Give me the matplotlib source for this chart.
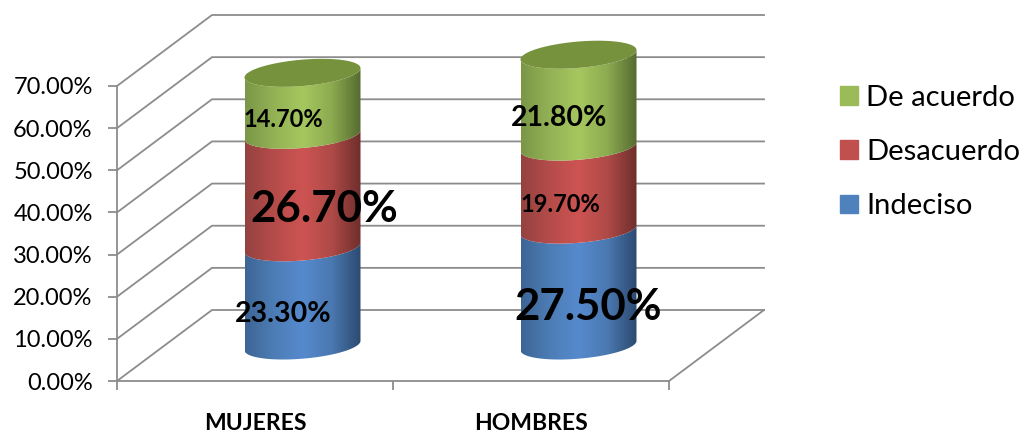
import numpy as np
import matplotlib
matplotlib.use('Agg')
import matplotlib.pyplot as plt
from matplotlib.colors import LinearSegmentedColormap
from matplotlib.patches import Polygon, Patch

# datos
categorias = ['MUJERES', 'HOMBRES']
series = ['Indeciso', 'Desacuerdo', 'De acuerdo']
indeciso = [0.233, 0.275]
desacuerdo = [0.267, 0.197]
de_acuerdo = [0.147, 0.218]
y_ticks = [0, 0.1, 0.2, 0.3, 0.4, 0.5, 0.6, 0.7]

# estilo de las etiquetas (tamano y desplazamiento en px)
label_off = [[(-19, -18), (22, -18), (-19, -16)],
             [(10, -19), (-18, -16), (-19, -17)]]
label_size = [[20.5, 31.5, 17], [31.5, 17, 20.5]]

colores = ['#4f81bd', '#c0504d', '#9bbb59']
degradados = [
    ['#3d6594', '#4d7db6', '#568ace', '#4a78b0', '#2c4a70'],
    ['#944240', '#b54c4a', '#cd5452', '#ae4a47', '#6e2e2c'],
    ['#7a9647', '#93b255', '#a6c75f', '#8caa50', '#566b30'],
]
tapa = '#77923c'
gris = '#8c8c8c'

plt.rcParams['font.family'] = ['Lato', 'DejaVu Sans']

fig = plt.figure(figsize=(10.24, 4.33), dpi=100)
ax = fig.add_axes([117 / 1024, (433 - 381) / 433, 552 / 1024, 295 / 433])

# profundidad del grafico 3D en unidades de datos
dx = 95 / 552 * 2
dy = 71 / 295 * 0.7

# paredes y rejilla
for v in y_ticks:
    ax.plot([0, dx, 2 + dx], [v, v + dy, v + dy], color=gris, lw=1.3,
            clip_on=False, zorder=1, solid_joinstyle='miter')
ax.plot([2, 2 + dx], [0, dy], color=gris, lw=1.3, clip_on=False, zorder=1)

# cilindros
rx = 58 / 552 * 2
a = 4.7 / 295 * 0.7   # inclinacion
b = 13.2 / 295 * 0.7


def borde(cx, v, t):
    return cx + rx * np.cos(t), v + a * np.cos(t) + b * np.sin(t)


t_frente = np.linspace(0, -np.pi, 60)
valores = [indeciso, desacuerdo, de_acuerdo]
for i, cat in enumerate(categorias):
    cx = i + 0.5 + dx / 2
    base = dy / 2
    acum = 0
    for j, serie in enumerate(series):
        v = valores[j][i]
        x0, y0 = borde(cx, base + acum, t_frente)
        x1, y1 = borde(cx, base + acum + v, t_frente)
        pts = np.column_stack([np.r_[x0, x1[::-1]], np.r_[y0, y1[::-1]]])
        cmap = LinearSegmentedColormap.from_list(serie, degradados[j])
        grad = np.linspace(0, 1, 256).reshape(1, -1)
        im = ax.imshow(grad, cmap=cmap, aspect='auto', zorder=3,
                       extent=[cx - rx, cx + rx, base + acum - 0.05, base + acum + v + 0.05])
        # sin esto la imagen se corta en el borde del eje
        im.set_clip_box(fig.bbox)
        im.set_clip_path(Polygon(pts, transform=ax.transData))
        acum += v
    # tapa superior
    t = np.linspace(0, 2 * np.pi, 120)
    xt, yt = borde(cx, base + acum, t)
    ax.fill(xt, yt, color=tapa, lw=0, zorder=4, clip_on=False)

    # etiquetas
    acum = 0
    for j in range(3):
        v = valores[j][i]
        ax.annotate('%.2f%%' % (v * 100), xy=(cx, base + acum + v / 2), xycoords='data',
                    xytext=(label_off[i][j][0] * 0.72, label_off[i][j][1] * 0.72),
                    textcoords='offset points', ha='center', va='center',
                    fontsize=label_size[i][j], fontweight='bold', color='black', zorder=6)
        acum += v

ax.set_xlim(0, 2)
ax.set_ylim(0, 0.7)

# ejes
for s in ['top', 'right']:
    ax.spines[s].set_visible(False)
for s in ['left', 'bottom']:
    ax.spines[s].set_color(gris)
    ax.spines[s].set_linewidth(1.3)
    ax.spines[s].set_zorder(2)
ax.patch.set_visible(False)
ax.set_yticks(y_ticks)
ax.set_yticklabels(['%.2f%%' % (v * 100) for v in y_ticks], fontsize=17, color='black')
ax.tick_params(axis='y', length=6.5, width=1.3, color=gris, pad=11)
ax.set_xticks([0, 1, 2])
ax.set_xticklabels([])
ax.tick_params(axis='x', which='major', length=6.5, width=1.3, color=gris)
ax.set_xticks([0.5, 1.5], minor=True)
ax.set_xticklabels(categorias, minor=True, fontsize=16.5, fontweight='bold')
ax.tick_params(axis='x', which='minor', length=0, pad=23)

# leyenda
handles = [Patch(color=colores[j], label=series[j]) for j in [2, 1, 0]]
fig.legend(handles=handles, loc='center left', bbox_to_anchor=(814 / 1024, 1 - 152 / 433),
           frameon=False, fontsize=21, handlelength=0.62, handleheight=0.62,
           labelspacing=0.97, handletextpad=0.26)

fig.savefig('out.png', dpi=100)
